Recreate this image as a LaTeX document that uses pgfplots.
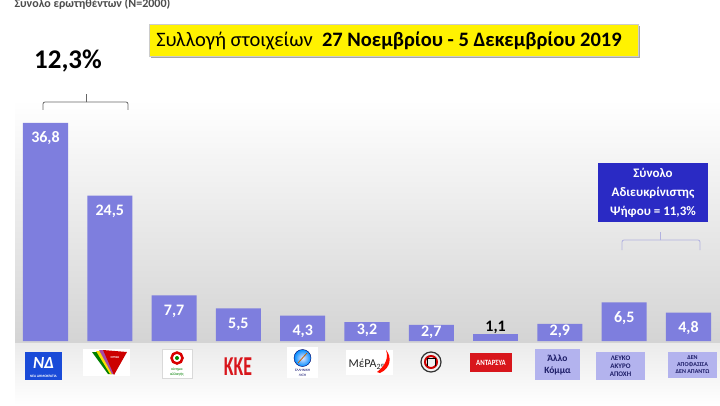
\documentclass[border=0pt]{standalone}
\usepackage{pgfplots}
\pgfplotsset{compat=1.18}
\usepackage{graphicx}
\usepackage{fontspec}
\setmainfont{Carlito}
\definecolor{barc}{HTML}{7E7EDE}
\definecolor{boxc}{HTML}{B3B3EE}
\definecolor{navy}{HTML}{1C1C66}
\definecolor{ndblue}{HTML}{1A4BD8}
\definecolor{dblue}{HTML}{2A2AC4}
\definecolor{kred}{HTML}{D8161C}
\begin{document}
\begin{tikzpicture}[x=1pt,y=-1pt]
\begin{scope}[shift={(0pt,405pt)}]
% background panels
\shade[top color=white,bottom color=black!17] (15,100) rectangle (720,343);
\shade[top color=black!8,bottom color=white] (15,343) rectangle (720,405);
% header
\node[anchor=west,text=black!70,font=\fontsize{12}{13}\selectfont\bfseries] at (11,4) {Συνολο ερωτηθέντων (N=2000)};
% yellow box
\fill[black!35] (151,26) rectangle (640,58);
\fill[yellow,draw=black!20] (149,24) rectangle (638,56);
\node[font=\fontsize{20.5}{22}\selectfont] at (389,40.5) {Συλλογή στοιχείων\ \ \textbf{27 Νοεμβρίου - 5 Δεκεμβρίου 2019}};
% 12,3%
\node[font=\fontsize{27}{28}\selectfont\bfseries] at (68,61) {12,3\%};
\draw[black!60,line width=0.8pt,rounded corners=2pt] (43,110) -- (43,102) -- (86,102);
\draw[black!60,line width=0.8pt,rounded corners=2pt] (128,110) -- (128,102) -- (86,102);
\draw[black!60,line width=0.8pt] (86,102) -- (86,94);
% right blue box
\fill[dblue] (598,163) rectangle (708,222);
\node[text=white,align=center,font=\fontsize{13}{19}\selectfont\bfseries] at (653,192.5) {Σύνολο\\Αδιευκρίνιστης\\Ψήφου = 11,3\%};
\draw[black!40!blue!30,line width=0.8pt,rounded corners=2pt] (622,250) -- (622,240) -- (660,240);
\draw[black!40!blue!30,line width=0.8pt,rounded corners=2pt] (700,250) -- (700,240) -- (660,240);
\draw[black!40!blue!30,line width=0.8pt] (660,240) -- (660,232);
% logos
% ND
\fill[ndblue] (25,352) rectangle (62,380);
\node[text=white,font=\fontsize{17}{17}\selectfont\bfseries\itshape] at (43.5,363) {ΝΔ};
\node[text=white,font=\fontsize{3.5}{4}\selectfont\bfseries] at (43.5,376) {ΝΕΑ ΔΗΜΟΚΡΑΤΙΑ};
% SYRIZA
\fill[white] (83,349) rectangle (130,376);
\fill[green!50!black] (92,352) -- (99,352) -- (112,374) -- (108,374) -- cycle;
\fill[yellow!80!orange] (96,351) -- (103,351) -- (114,374) -- (110,374) -- cycle;
\fill[violet!70] (99,350) -- (105,350) -- (115,374) -- (112,374) -- cycle;
\fill[red!80!black] (103,350) -- (127,352) -- (114,375) -- cycle;
\node[text=white,font=\fontsize{3}{3}\selectfont\bfseries] at (115,358) {ΣΥΡΙΖΑ};
% KINAL
\fill[white,draw=black!15] (162,349) rectangle (192,378);
\draw[red!85!black,line width=2.5pt] (177,358) circle (5.5pt);
\fill[green!55!black] (177,358) circle (2pt);
\node[text=green!50!black,align=center,font=\fontsize{4}{4.5}\selectfont] at (177,372) {κίνημα\\αλλαγής};
% KKE
\node[text=kred,font=\fontsize{21}{21}\selectfont\bfseries] at (238,367) {\scalebox{0.85}[1.3]{ΚΚΕ}};
% Elliniki Lysi
\fill[white] (287,347) rectangle (318,378);
\shade[inner color=blue!10,outer color=blue!45!cyan,draw=blue!40!black] (302.5,358) circle (8.5pt);
\draw[orange!80!black,line width=0.8pt] (298,363) -- (307,353);
\node[text=blue!40!black,align=center,font=\fontsize{3.5}{4.5}\selectfont] at (302.5,373) {ΕΛΛΗΝΙΚΗ\\ΛΥΣΗ};
% MeRA25
\fill[white] (346,350) rectangle (393,375);
\node[anchor=west,text=black!85,font=\fontsize{12}{12}\selectfont] at (345,364) {ΜέΡΑ\raisebox{-2pt}{\fontsize{8}{8}\selectfont 25}};
\fill[red!90!orange] (377,372) .. controls (385,366) and (389,358) .. (386,350) .. controls (392,357) and (391,368) .. (380,373) -- cycle;
% Golden dawn emblem
\draw[black!80,line width=1.2pt] (431,362) circle (10pt);
\draw[red!80!black,line width=2pt] (431,362) circle (6pt);
\draw[black,line width=1pt] (427,366) -- (427,358) -- (435,358) -- (435,366);
% ANTARSYA
\fill[kred] (470,353) rectangle (512,372);
\node[text=white,font=\fontsize{8}{8}\selectfont\bfseries] at (491,362.5) {\scalebox{0.85}[1]{ΑΝΤΑΡΣΥΑ}};
% boxes
\fill[boxc] (535,349) rectangle (580,380);
\node[text=navy,align=center,font=\fontsize{9.5}{12}\selectfont\bfseries] at (557.5,364.5) {Άλλο\\Κόμμα};
\fill[boxc] (596,352) rectangle (645,380);
\node[text=navy,align=center,font=\fontsize{7}{8}\selectfont\bfseries] at (620.5,366) {ΛΕΥΚΟ\\ΑΚΥΡΟ\\ΑΠΟΧΗ};
\fill[boxc] (668,352) rectangle (717,378);
\node[text=navy,align=center,font=\fontsize{6}{7}\selectfont\bfseries] at (692.5,365) {ΔΕΝ\\ΑΠΟΦΑΣΙΣΑ\\ΔΕΝ ΑΠΑΝΤΩ};
\end{scope}
\begin{axis}[
  at={(0pt,0pt)}, anchor=south west,
  width=720pt, height=405pt, scale only axis,
  xmin=-0.7076, xmax=10.49, ymin=-10.79, ymax=57.50,
  hide axis, clip=false,
  ybar, bar width=0.7,
  /pgf/number format/assume math mode=true,
]
\addplot[fill=barc, draw=none, bar shift=0pt,
  nodes near coords={\pgfmathprintnumber[fixed,precision=1,fixed zerofill,use comma]{\pgfplotspointmeta}},
  every node near coord/.append style={text=white,font=\fontsize{16}{16}\selectfont\bfseries,anchor=base,yshift=-20pt}]
  coordinates {(0,36.8) (1,24.5) (2,7.7) (3,5.5) (4,4.3) (9,6.5) (10,4.8)};
\addplot[fill=barc, draw=none, bar shift=0pt,
  nodes near coords={\pgfmathprintnumber[fixed,precision=1,fixed zerofill,use comma]{\pgfplotspointmeta}},
  every node near coord/.append style={text=white,font=\fontsize{16}{16}\selectfont\bfseries,anchor=base,yshift=-12pt}]
  coordinates {(5,3.2) (6,2.7) (8,2.9)};
\addplot[fill=barc, draw=none, bar shift=0pt,
  nodes near coords={\pgfmathprintnumber[fixed,precision=1,fixed zerofill,use comma]{\pgfplotspointmeta}},
  every node near coord/.append style={text=black,font=\fontsize{16}{16}\selectfont\bfseries,anchor=base,yshift=3pt}]
  coordinates {(7,1.1)};
\end{axis}
\pgfresetboundingbox
\useasboundingbox (0pt,0pt) rectangle (720pt,405pt);
\end{tikzpicture}
\end{document}
